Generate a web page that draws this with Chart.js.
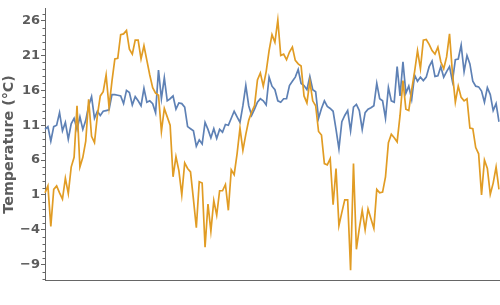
<!DOCTYPE html>
<html>
<head>
<meta charset="utf-8">
<script src="https://cdn.jsdelivr.net/npm/chart.js@4"></script>
<style>
  html, body { margin: 0; padding: 0; background: #fff; }
  #wrap { width: 500px; height: 305px; }
</style>
</head>
<body>
<div id="wrap"><canvas id="myChart" width="500" height="305"></canvas></div>
<script>
// Weekly temperatures, two stations
const seriesA = [
  10.4, 10.8, 8.7, 10.8, 11.0, 12.8, 10.2, 11.4, 9.0, 11.2, 12.0, 10.4, 12.2, 10.4, 11.7, 13.8, 15.1, 12.0, 13.0, 12.4, 13.0, 13.1, 13.2, 15.4, 15.4, 15.3, 15.2,
  14.1, 16.0, 15.7, 13.9, 15.1, 14.5, 13.8, 16.3, 14.3, 14.5, 14.1, 12.8, 18.9, 14.8, 17.8, 14.5, 14.8, 15.2, 13.3, 14.2, 14.1, 13.6, 10.8, 10.5, 10.2, 8.0,
  8.9, 8.3, 11.4, 10.4, 9.2, 10.5, 9.1, 10.4, 10.0, 11.1, 11.0, 12.0, 13.0, 12.2, 11.4, 13.8, 16.7, 13.8, 12.4, 13.3, 14.3, 14.8, 14.5, 13.9, 17.9, 16.6,
  16.1, 14.5, 14.3, 14.8, 14.8, 16.7, 17.3, 17.9, 19.0, 17.0, 16.7, 16.1, 18.0, 16.1, 15.8, 12.0, 13.4, 14.5, 13.7, 13.4, 13.0, 10.4, 7.6, 11.5, 12.4, 13.1, 10.2,
  13.6, 14.0, 13.1, 10.4, 12.8, 13.3, 13.5, 13.8, 17.0, 14.8, 14.5, 12.0, 16.4, 14.5, 14.3, 19.4, 15.2, 20.1, 15.6, 16.6, 14.7, 18.2, 17.3, 17.9, 17.4, 17.9,
  19.4, 20.2, 18.0, 18.1, 19.4, 17.9, 18.7, 19.4, 17.3, 20.4, 20.5, 22.5, 18.7, 21.0, 19.8, 17.3, 16.6, 16.5, 15.9, 14.3, 16.4, 15.4, 13.1, 14.1, 11.5
];
const seriesB = [
  1.3, 2.3, -3.5, 1.8, 2.3, 1.3, 0.4, 3.4, 1.2, 5.0, 6.4, 13.8, 5.0, 6.4, 8.7, 14.7, 9.4, 8.5, 12.4, 15.2, 15.8, 18.2, 13.6, 17.3, 20.5, 20.6, 24.0,
  24.1, 24.6, 21.9, 21.2, 23.2, 23.2, 20.5, 22.4, 20.3, 18.2, 16.4, 15.6, 15.3, 10.1, 13.4, 12.2, 11.0, 3.6, 6.5, 4.5, 1.0, 5.6, 4.8, 4.3, 0.4, -3.7,
  2.9, 2.7, -6.5, -0.3, -4.2, 0.2, -1.9, 1.6, 1.6, 2.5, -1.2, 4.6, 3.9, 6.9, 10.6, 7.4, 9.7, 11.7, 12.9, 13.8, 17.5, 18.5, 16.6, 18.7, 21.7, 24.0,
  22.9, 26.1, 21.0, 21.2, 20.4, 21.5, 22.2, 20.3, 19.8, 19.5, 15.2, 14.2, 17.3, 14.5, 13.8, 10.1, 9.6, 5.5, 5.3, 6.2, -0.4, 4.8, -3.4, -1.5, 0.3, 0.3, -9.8,
  5.5, -6.8, -3.8, -1.2, -4.0, -1.0, -2.4, -3.8, 1.8, 1.3, 1.4, 3.6, 8.5, 9.7, 9.2, 8.6, 12.4, 17.4, 13.3, 13.1, 16.1, 18.7, 21.7, 19.1, 23.2, 23.3,
  22.6, 21.7, 21.2, 22.2, 20.1, 19.1, 20.8, 24.1, 18.5, 14.3, 16.6, 15.0, 14.5, 14.8, 10.6, 10.5, 7.8, 6.9, 1.0, 6.0, 4.8, 1.1, 2.7, 5.0, 1.8
];
const weeks = seriesA.map((v, i) => i + 1);
const yTicks = [-9, -4, 1, 6, 11, 16, 21, 26];
const yLabel = 'Temperature (°C)';

const axisColor = '#666666';
const labelColor = '#5c5c5c';

// small minor tick marks between the labelled ones
const minorTicks = {
  id: 'minorTicks',
  afterDraw(chart) {
    const s = chart.scales.y;
    const ctx = chart.ctx;
    ctx.save();
    ctx.strokeStyle = axisColor;
    ctx.lineWidth = 1;
    for (let v = Math.ceil(s.min); v <= s.max; v++) {
      if (yTicks.includes(v)) continue;
      const y = Math.round(s.getPixelForValue(v)) + 0.5;
      ctx.beginPath();
      ctx.moveTo(s.right - 2.5, y);
      ctx.lineTo(s.right, y);
      ctx.stroke();
    }
    ctx.restore();
  }
};

const ctx = document.getElementById('myChart');
const myChart = new Chart(ctx, {
  type: 'line',
  data: {
    labels: weeks,
    datasets: [
      {
        label: 'A',
        data: seriesA,
        borderColor: '#5e81b5',
        borderWidth: 1.7,
        pointRadius: 0,
        tension: 0,
        order: 1,
      },
      {
        label: 'B',
        data: seriesB,
        borderColor: '#e19c24',
        borderWidth: 1.7,
        pointRadius: 0,
        tension: 0,
        order: 0,
      },
    ],
  },
  options: {
    responsive: false,
    animation: false,
    layout: { padding: { top: 0, right: 1, bottom: 0, left: 0 } },
    plugins: { legend: { display: false }, tooltip: { enabled: false } },
    scales: {
      x: {
        type: 'category',
        offset: false,
        grid: { display: false, drawTicks: false },
        border: { display: true, color: axisColor, width: 1 },
        ticks: { display: false },
        afterFit: (s) => { s.height = 25; },
      },
      y: {
        min: -11.2,
        max: 27.7,
        afterBuildTicks: (s) => { s.ticks = yTicks.map((v) => ({ value: v })); },
        afterFit: (s) => { s.width = 45; },
        grid: { drawOnChartArea: false, tickLength: 4, color: axisColor },
        border: { display: true, color: axisColor, width: 1 },
        ticks: {
          color: labelColor,
          padding: 1,
          font: { family: 'DejaVu Sans', size: 13, weight: 'bold' },
          callback: (v) => (v < 0 ? '\u2212' + Math.abs(v) : '' + v),
        },
        title: {
          display: true,
          text: yLabel,
          color: labelColor,
          padding: { top: 1, bottom: 0 },
          font: { family: 'DejaVu Sans', size: 14.3, weight: 'bold' },
        },
      },
    },
  },
  plugins: [minorTicks],
});
</script>
</body>
</html>
